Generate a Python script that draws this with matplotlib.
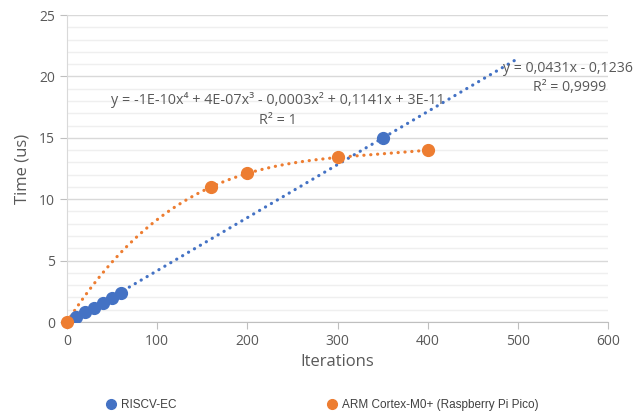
import numpy as np
import matplotlib
matplotlib.use("Agg")
import matplotlib.pyplot as plt
from matplotlib.ticker import MultipleLocator
from matplotlib.lines import Line2D

# Data
riscv_x = [10, 20, 30, 40, 50, 60, 350]
riscv_y = [0.4, 0.8, 1.15, 1.55, 1.95, 2.35, 15.0]
arm_x = [0, 160, 200, 300, 400]
arm_y = [0.0, 11.0, 12.1, 13.4, 14.0]
series_labels = ["RISCV-EC", "ARM Cortex-M0+ (Raspberry Pi Pico)"]
arm_eq = ["y = -1E-10x⁴ + 4E-07x³ - 0,0003x² + 0,1141x + 3E-11", "R² = 1"]
riscv_eq = ["y = 0,0431x - 0,1236", "R² = 0,9999"]

blue = "#4472C4"
orange = "#ED7D31"
txtc = "#595959"

plt.rcParams['font.family'] = ['Open Sans', 'DejaVu Sans']

fig = plt.figure(figsize=(6.36, 4.15), dpi=100)
ax = fig.add_axes([67/636, 1-322/415, (608-67)/636, (322-15)/415])

ax.set_xlim(0, 600)
ax.set_ylim(0, 25)
ax.xaxis.set_major_locator(MultipleLocator(100))
ax.yaxis.set_major_locator(MultipleLocator(5))
ax.yaxis.set_minor_locator(MultipleLocator(1))
ax.grid(True, which='major', axis='y', color='#d9d9d9', lw=1.0)
ax.grid(True, which='minor', axis='y', color='#efefef', lw=1.0)
ax.set_axisbelow(True)
for s in ['top', 'right']:
    ax.spines[s].set_visible(False)
ax.spines['left'].set_color('#d9d9d9')
ax.spines['bottom'].set_color('#bfbfbf')
ax.tick_params(axis='both', which='major', colors='#bfbfbf', labelcolor=txtc,
               labelsize=10, length=5)
ax.tick_params(axis='y', which='minor', length=0)

# Trendlines
dot = (0, (0.05, 2.1))
cb = np.polyfit(riscv_x, riscv_y, 1)
xb = np.linspace(min(riscv_x), 500, 300)
ax.plot(xb, np.polyval(cb, xb), color=blue, lw=2.3, linestyle=dot,
        dash_capstyle='round', zorder=2)
co = np.polyfit(arm_x, arm_y, 4)
xo = np.linspace(0, 400, 300)
ax.plot(xo, np.polyval(co, xo), color=orange, lw=2.3, linestyle=dot,
        dash_capstyle='round', zorder=2)

ax.plot(riscv_x, riscv_y, 'o', color=blue, ms=8.5, zorder=3)
ax.plot(arm_x, arm_y, 'o', color=orange, ms=8.5, zorder=3, clip_on=False)

def ytxt(py):
    return (322 - py) / (307 / 25)

def xtxt(px):
    return (px - 67) / (541 / 600)

ax.text(xtxt(278), ytxt(100), arm_eq[0], ha='center', va='center', fontsize=10.4, color=txtc)
ax.text(xtxt(278), ytxt(121), arm_eq[1], ha='center', va='center', fontsize=10.4, color=txtc)
ax.text(xtxt(568), ytxt(68), riscv_eq[0], ha='center', va='center', fontsize=10.2, color=txtc)
ax.text(xtxt(570), ytxt(88), riscv_eq[1], ha='center', va='center', fontsize=10.2, color=txtc)

ax.set_xlabel("Iterations", fontsize=12, color=txtc, labelpad=4)
ax.set_ylabel("Time (us)", fontsize=12, color=txtc, labelpad=6)

for i, (col, px) in enumerate([(blue, 111), (orange, 332)]):
    h = Line2D([], [], marker='o', color=col, ls='none', ms=7)
    leg = fig.legend([h], [series_labels[i]], loc='center left',
                     bbox_to_anchor=((px - 9) / 636, 1 - 405 / 415),
                     frameon=False, handletextpad=0.1, handlelength=1.5,
                     borderpad=0, borderaxespad=0,
                     prop={'family': 'Liberation Sans', 'size': 8.5})
    for t in leg.get_texts():
        t.set_color('#404040')

fig.savefig("out.png", dpi=100)
